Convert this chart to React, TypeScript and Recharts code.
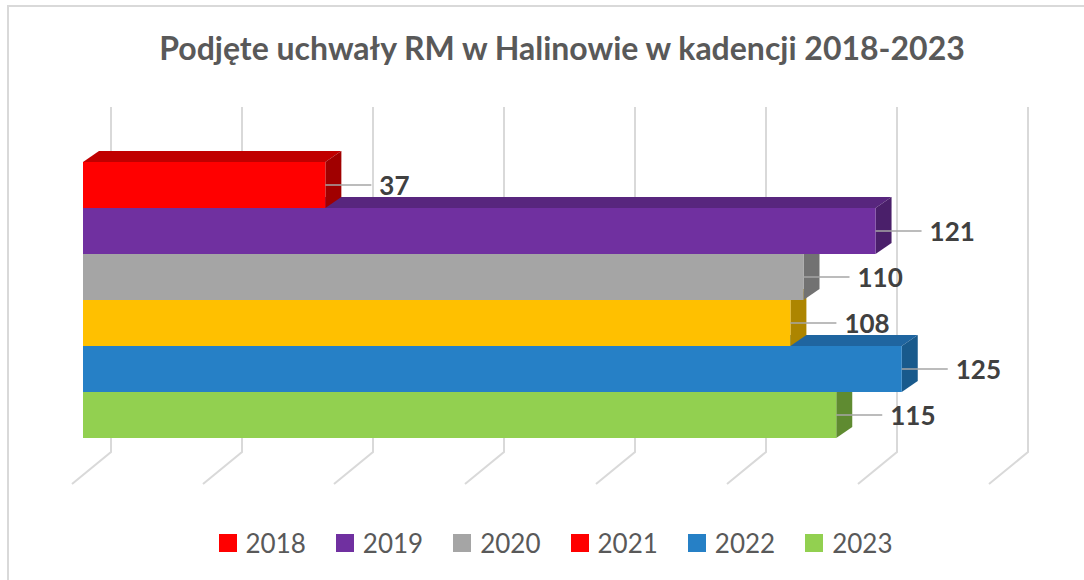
import React from "react";
import {
  BarChart,
  Bar,
  XAxis,
  YAxis,
  CartesianGrid,
  Legend,
  LabelList
} from "recharts";

// values, top bar first
const years = ["2018", "2019", "2020", "2021", "2022", "2023"];
const resolutions = [37, 121, 110, 108, 125, 115];
const axisTicks = [0, 20, 40, 60, 80, 100, 120, 140];

// legend colour per series (2021 is red in the legend, yellow in the bar)
const legendColors = ["#FF0000", "#7030A0", "#A5A5A5", "#FF0000", "#2680C6", "#92D050"];
const frontColors = ["#FF0000", "#7030A0", "#A5A5A5", "#FFC000", "#2680C6", "#92D050"];
const topColors = ["#C00000", "#58267E", "#858585", "#CC9A00", "#1F65A0", "#74A83F"];
const sideColors = ["#A00000", "#4A1F6A", "#727272", "#AD8500", "#195A8C", "#5F8B31"];

const DX = 16;
const DY = 11;

const rows = years.map((y, i) => ({ year: y, [y]: resolutions[i] }));

function make3DBar(idx: number) {
  return (props: any) => {
    const { x, y, width, height } = props;
    if (!width || width <= 0 || props.payload?.[years[idx]] == null) return <g />;
    const r = x + width;
    return (
      <g>
        <polygon
          points={`${x},${y} ${x + DX},${y - DY} ${r + DX},${y - DY} ${r},${y}`}
          fill={topColors[idx]}
        />
        <polygon
          points={`${r},${y} ${r + DX},${y - DY} ${r + DX},${y + height - DY} ${r},${y + height}`}
          fill={sideColors[idx]}
        />
        <rect x={x} y={y} width={width} height={height} fill={frontColors[idx]} />
      </g>
    );
  };
}

const renderLabel = (p: any) => {
  const { x, y, width, height, value } = p;
  if (value == null || value === "") return null;
  const ex = x + width;
  const cy = y + height / 2;
  return (
    <g>
      <line x1={ex} y1={cy} x2={ex + 46} y2={cy} stroke="#A6A6A6" strokeWidth={1.5} />
      <text
        x={ex + 54}
        y={cy}
        dominantBaseline="central"
        fill="#404040"
        fontFamily="Lato"
        fontWeight="bold"
        fontSize={26}
      >
        {value}
      </text>
    </g>
  );
};

// perspective gridline: back wall + slanted floor piece
const gridLine = (p: any) => {
  const { x1, y1, y2 } = p;
  const bx = x1 + 28;
  return (
    <path
      key={p.key}
      d={`M${bx},${y1 - 55} L${bx},${y2 + 14} L${x1 - 11},${y2 + 46}`}
      stroke="#D9D9D9"
      strokeWidth={2}
      fill="none"
    />
  );
};

const gridX = ({ xAxis, offset }: any) =>
  axisTicks.map((t) =>
    xAxis && typeof xAxis.scale === "function"
      ? xAxis.scale(t)
      : offset.left + (t / axisTicks[axisTicks.length - 1]) * offset.width
  );

const renderLegend = (props: any) => {
  const items = [...(props.payload || [])].sort((a: any, b: any) =>
    String(a.value).localeCompare(String(b.value))
  );
  return (
    <div
      style={{
        height: 122,
        paddingTop: 89,
        paddingLeft: 58,
        boxSizing: "border-box",
        display: "flex",
        justifyContent: "center",
        fontFamily: "Lato",
        fontSize: 26,
        color: "#595959"
      }}
    >
      {items.map((it: any) => (
        <div
          key={it.value}
          style={{ display: "flex", alignItems: "center", height: 32, marginRight: 30 }}
        >
          <span
            style={{ width: 18, height: 18, background: it.color, marginRight: 9, display: "inline-block" }}
          />
          <span>{it.value}</span>
        </div>
      ))}
    </div>
  );
};

export default function App() {
  const drawOrder = years.map((_, i) => i).reverse();
  return (
    <div
      style={{
        position: "absolute",
        left: 0,
        top: 0,
        width: 1084,
        height: 580,
        overflow: "hidden",
        background: "#fff"
      }}
    >
      <div
        style={{
          position: "absolute",
          left: 7,
          top: 5,
          width: 1200,
          height: 700,
          borderLeft: "2px solid #D9D9D9",
          borderTop: "2px solid #D9D9D9"
        }}
      />
      <div
        style={{
          position: "absolute",
          left: 20,
          top: 32,
          width: 1084,
          textAlign: "center",
          fontFamily: "Lato",
          fontWeight: "bold",
          fontSize: 32,
          lineHeight: "32px",
          color: "#595959"
        }}
      >
        Podjęte uchwały RM w Halinowie w kadencji 2018-2023
      </div>
      <BarChart
        width={1084}
        height={580}
        data={rows}
        layout="vertical"
        barCategoryGap={0}
        barGap={0}
        margin={{ top: 162, right: 84, left: 83, bottom: 20 }}
        style={{ position: "absolute", left: 0, top: 0 }}
      >
        <CartesianGrid horizontal={false} vertical={gridLine} verticalCoordinatesGenerator={gridX} />
        <XAxis
          type="number"
          domain={[0, 140]}
          ticks={axisTicks}
          interval={0}
          tick={false}
          tickLine={false}
          axisLine={false}
          height={0}
        />
        <YAxis type="category" dataKey="year" hide width={0} />
        <Legend verticalAlign="bottom" content={renderLegend} />
        {drawOrder.map((i) => (
          <Bar
            key={years[i]}
            dataKey={years[i]}
            name={years[i]}
            stackId="s"
            fill={legendColors[i]}
            legendType="square"
            shape={make3DBar(i)}
            isAnimationActive={false}
          >
            <LabelList dataKey={years[i]} content={renderLabel} />
          </Bar>
        ))}
      </BarChart>
    </div>
  );
}
